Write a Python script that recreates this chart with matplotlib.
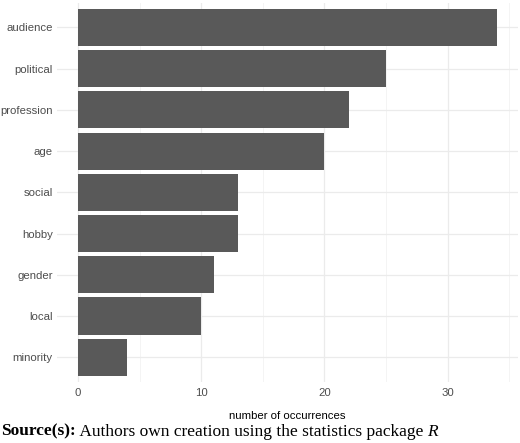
import numpy as np
import matplotlib
matplotlib.use("Agg")
import matplotlib.pyplot as plt
from matplotlib.ticker import MultipleLocator

# dados
categorias = ["audience", "political", "profession", "age", "social",
              "hobby", "gender", "local", "minority"]
ocorrencias = [34, 25, 22, 20, 13, 13, 11, 10, 4]

plt.rcParams['font.family'] = ['Liberation Sans', 'DejaVu Sans']

fig = plt.figure(figsize=(5.2, 4.43), dpi=100)
ax = fig.add_axes([57 / 520, 1 - 382 / 443, (518 - 57) / 520, (382 - 2.6) / 443])

# ordem de cima para baixo
y = np.arange(len(categorias))[::-1] + 1
ax.barh(y, ocorrencias, height=0.9, color="#595959", zorder=2)

ax.set_xlim(-0.05 * 34, 34 * 1.05)
ax.set_ylim(0.4, len(categorias) + 0.6)
ax.set_yticks(y)
ax.set_yticklabels(categorias)
ax.xaxis.set_major_locator(MultipleLocator(10))
ax.xaxis.set_minor_locator(MultipleLocator(5))

ax.grid(True, which="major", axis="both", color="#EBEBEB", linewidth=0.9, zorder=0)
ax.grid(True, which="minor", axis="x", color="#F2F2F2", linewidth=0.6, zorder=0)
for s in ax.spines.values():
    s.set_visible(False)
ax.tick_params(axis="both", which="both", length=0, labelsize=8.2, labelcolor="#4D4D4D")
ax.tick_params(axis="y", pad=3)
ax.tick_params(axis="x", pad=4)
ax.set_xlabel("number of occurrences", fontsize=8.2, color="black", labelpad=10)

# legenda da fonte (Source)
fig.canvas.draw()
r = fig.canvas.get_renderer()
x0 = 0.002
yy = 1 - 431.5 / 443
partes = [("Source(s):", dict(weight="bold", style="normal")),
          (" Authors own creation using the statistics package ", dict(weight="normal", style="normal")),
          ("R", dict(weight="normal", style="italic"))]
for txt, kw in partes:
    t = fig.text(x0, yy, txt, fontsize=12.5, family=['Liberation Serif'], va="center", ha="left", **kw)
    bb = t.get_window_extent(renderer=r)
    x0 = bb.x1 / fig.bbox.width

fig.savefig("out.png", dpi=100)
